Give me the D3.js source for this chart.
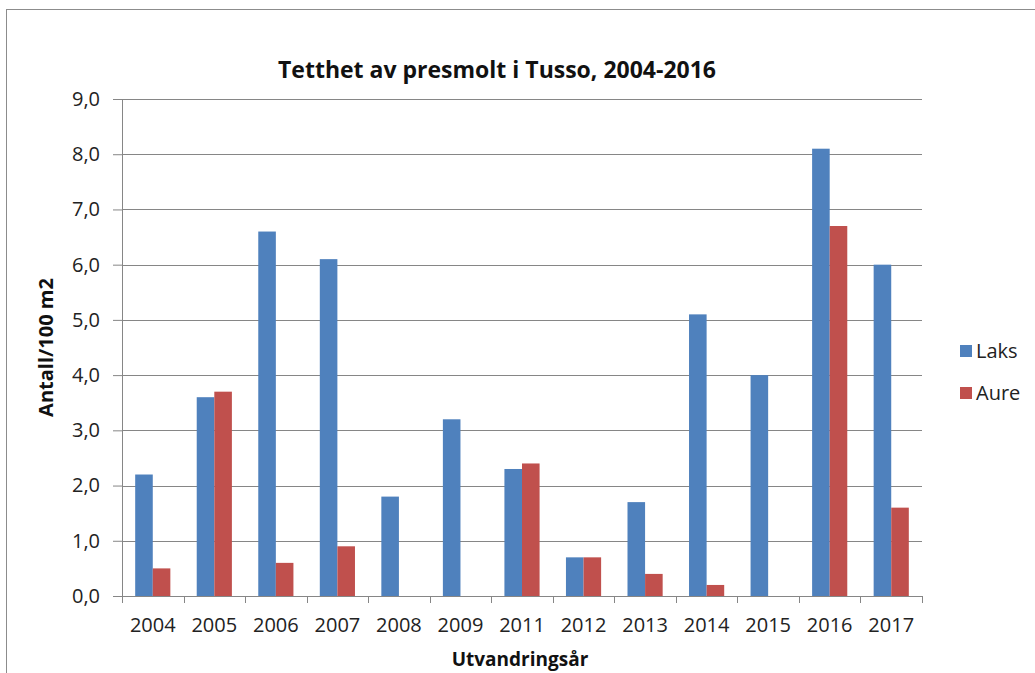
<!DOCTYPE html>
<html>
<head>
<meta charset="utf-8">
<script src="https://cdn.jsdelivr.net/npm/d3@7"></script>
<style>
  body { margin: 0; background: #fff; }
  svg { display: block; font-family: "Open Sans", sans-serif; }
</style>
</head>
<body>
<svg id="drawing_region"></svg>
<script>
const years = ['2004', '2005', '2006', '2007', '2008', '2009', '2011', '2012', '2013', '2014', '2015', '2016', '2017'];
const laks = [2.2, 3.6, 6.6, 6.1, 1.8, 3.2, 2.3, 0.7, 1.7, 5.1, 4.0, 8.1, 6.0];
const aure = [0.5, 3.7, 0.6, 0.9, 0, 0, 2.4, 0.7, 0.4, 0.2, 0, 6.7, 1.6];
const seriesNames = ['Laks', 'Aure'];
const seriesColors = ['#4f81bd', '#c0504d'];
const yTicks = [0, 1, 2, 3, 4, 5, 6, 7, 8, 9];

const width = 1035, height = 673;
const margin = {top: 99, right: 113, bottom: 77, left: 122};
const innerW = width - margin.left - margin.right;
const innerH = height - margin.top - margin.bottom;

const svg = d3.select('#drawing_region')
    .attr('width', width)
    .attr('height', height);

// chart area border (runs off the right and bottom)
svg.append('rect')
    .attr('x', 6.5).attr('y', 9.5)
    .attr('width', width + 20).attr('height', height + 20)
    .attr('fill', '#fff')
    .attr('stroke', '#8c8c8c');

const chart = svg.append('g')
    .attr('transform', `translate(${margin.left}, ${margin.top})`);

const xscale = d3.scaleBand()
    .domain(years)
    .range([0, innerW]);

const xinner = d3.scaleBand()
    .domain(seriesNames)
    .range([0, xscale.bandwidth()])
    .paddingOuter(0.75)
    .paddingInner(0);

const yscale = d3.scaleLinear()
    .domain([0, 9])
    .range([innerH, 0]);

const fmt = d => d.toFixed(1).replace('.', ',');

// gridlines
chart.append('g')
    .selectAll('line')
    .data(yTicks.slice(1))
    .join('line')
    .attr('x1', 0).attr('x2', innerW)
    .attr('y1', d => Math.round(yscale(d)) + 0.5)
    .attr('y2', d => Math.round(yscale(d)) + 0.5)
    .attr('stroke', '#868686');

// bars
const rows = years.map((y, i) => ({year: y, values: [laks[i], aure[i]]}));
chart.append('g')
    .selectAll('g')
    .data(rows)
    .join('g')
    .attr('transform', d => `translate(${xscale(d.year)}, 0)`)
    .selectAll('rect')
    .data(d => d.values.map((v, j) => ({name: seriesNames[j], value: v, color: seriesColors[j]})))
    .join('rect')
    .attr('x', d => xinner(d.name))
    .attr('y', d => yscale(d.value))
    .attr('width', xinner.bandwidth())
    .attr('height', d => innerH - yscale(d.value))
    .attr('fill', d => d.color);

// y axis
const yaxis = d3.axisLeft(yscale)
    .tickValues(yTicks)
    .tickFormat(fmt)
    .tickSize(9)
    .tickPadding(13);
const yg = chart.append('g').call(yaxis);
yg.select('.domain').attr('stroke', '#868686').attr('d', `M0.5,0V${innerH}`);
yg.selectAll('.tick line').attr('stroke', '#868686');
yg.selectAll('.tick text')
    .attr('font-family', '"Open Sans", sans-serif')
    .attr('font-size', 20)
    .attr('fill', '#222');

// x axis
const xaxis = d3.axisBottom(xscale)
    .tickSize(0)
    .tickPadding(22);
const xg = chart.append('g')
    .attr('transform', `translate(0, ${innerH})`)
    .call(xaxis);
xg.select('.domain').attr('stroke', '#868686').attr('d', `M0,0.5H${innerW}`);
xg.selectAll('.tick text')
    .attr('font-family', '"Open Sans", sans-serif')
    .attr('font-size', 20)
    .attr('fill', '#222');
// category boundary ticks
xg.append('g')
    .selectAll('line')
    .data(years.concat(['end']))
    .join('line')
    .attr('x1', (d, i) => Math.round(i * xscale.step()) + 0.5)
    .attr('x2', (d, i) => Math.round(i * xscale.step()) + 0.5)
    .attr('y1', 0).attr('y2', 7)
    .attr('stroke', '#868686');

// title
svg.append('text')
    .attr('x', 497).attr('y', 78)
    .attr('text-anchor', 'middle')
    .attr('font-size', 23)
    .attr('font-weight', 'bold')
    .attr('fill', '#111')
    .text('Tetthet av presmolt i Tusso, 2004-2016');

// axis titles
svg.append('text')
    .attr('transform', `translate(53, ${margin.top + innerH / 2}) rotate(-90)`)
    .attr('text-anchor', 'middle')
    .attr('font-size', 20)
    .attr('font-weight', 'bold')
    .attr('fill', '#111')
    .text('Antall/100 m2');

svg.append('text')
    .attr('x', margin.left + innerW / 2 - 2)
    .attr('y', 666)
    .attr('text-anchor', 'middle')
    .attr('font-size', 19)
    .attr('font-weight', 'bold')
    .attr('fill', '#111')
    .text('Utvandringsår');

// legend
const legend = svg.append('g')
    .attr('transform', 'translate(960, 345)')
    .selectAll('g')
    .data(seriesNames)
    .join('g')
    .attr('transform', (d, i) => `translate(0, ${i * 42})`);
legend.append('rect')
    .attr('width', 12).attr('height', 12)
    .attr('fill', (d, i) => seriesColors[i]);
legend.append('text')
    .attr('x', 16).attr('y', 6)
    .attr('dy', '0.35em')
    .attr('font-size', 20)
    .attr('fill', '#222')
    .text(d => d);
</script>
</body>
</html>
